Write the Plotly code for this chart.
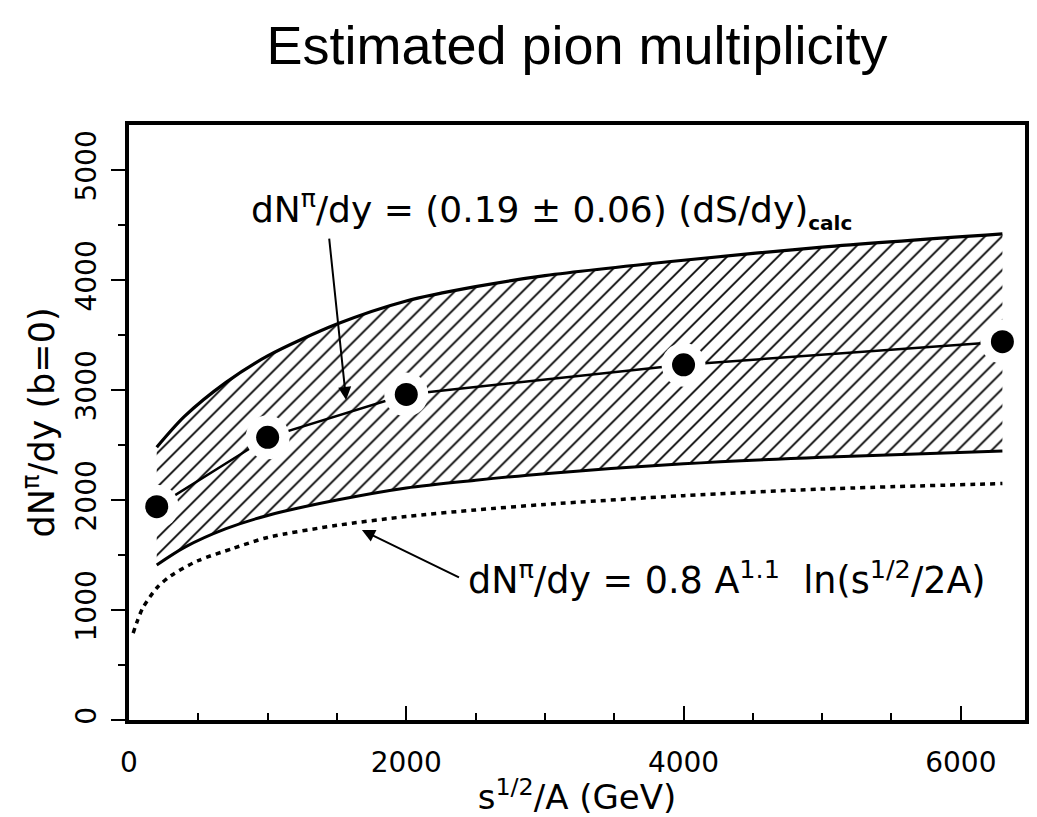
import plotly.graph_objects as go

# Band (dNpi/dy = (0.19 +/- 0.06) (dS/dy)calc)
x_band = [200, 400, 700, 1000, 1500, 2000, 2500, 3000, 4000, 5000, 6300]
upper = [2480, 2760, 3070, 3310, 3600, 3810, 3940, 4040, 4180, 4300, 4420]
lower = [1410, 1570, 1740, 1860, 2000, 2110, 2180, 2240, 2330, 2390, 2445]

# Dotted curve (0.8 A^1.1 ln(s^1/2 / 2A))
x_dotted = [30, 60, 100, 200, 300, 500, 750, 1000, 1500, 2000, 2500, 3000, 4000, 5000, 6300]
y_dotted = [790, 900, 1020, 1200, 1310, 1450, 1560, 1660, 1770, 1850, 1910, 1960, 2040, 2100, 2150]

# Estimated points
x_pts = [200, 1000, 2000, 4000, 6300]
y_pts = [1940, 2570, 2960, 3230, 3440]

x_ticks = [0, 2000, 4000, 6000]
y_ticks = [0, 1000, 2000, 3000, 4000, 5000]

FONT = "DejaVu Sans"

fig = go.Figure()

fig.add_trace(go.Scatter(x=x_band, y=lower, mode="lines",
                         line=dict(color="black", width=3, shape="spline", smoothing=0.8),
                         showlegend=False, hoverinfo="skip"))
fig.add_trace(go.Scatter(x=x_band, y=upper, mode="lines", fill="tonexty",
                         fillcolor="rgba(0,0,0,0)",
                         fillpattern=dict(shape="/", size=12, solidity=0.15,
                                          fgcolor="black", bgcolor="white", fillmode="replace"),
                         line=dict(color="black", width=3.2, shape="spline", smoothing=0.8),
                         showlegend=False, hoverinfo="skip"))
fig.add_trace(go.Scatter(x=x_dotted, y=y_dotted, mode="lines",
                         line=dict(color="black", width=3.5, dash="5px,5px", shape="spline", smoothing=0.8),
                         showlegend=False, hoverinfo="skip"))
fig.add_trace(go.Scatter(x=x_pts, y=y_pts, mode="lines",
                         line=dict(color="black", width=2.5), showlegend=False, hoverinfo="skip"))
fig.add_trace(go.Scatter(x=x_pts, y=y_pts, mode="markers",
                         marker=dict(color="white", size=44, line=dict(width=0)),
                         showlegend=False, hoverinfo="skip"))
fig.add_trace(go.Scatter(x=x_pts, y=y_pts, mode="markers",
                         marker=dict(color="black", size=23, line=dict(width=0)),
                         showlegend=False, hoverinfo="skip"))

annotations = [
    dict(x=869, y=4640, xref="x", yref="y", xanchor="left", yanchor="middle", showarrow=False,
         text="dN<sup>π</sup>/dy = (0.19 ± 0.06) (dS/dy)<sub><b><span style='font-size:20px'>calc</span></b></sub>",
         font=dict(family=FONT, size=36, color="black")),
    dict(x=2434, y=1290, xref="x", yref="y", xanchor="left", yanchor="middle", showarrow=False,
         text="dN<sup>π</sup>/dy = 0.8 A<sup>1.1</sup>  ln(s<sup>1/2</sup>/2A)",
         font=dict(family=FONT, size=36.5, color="black")),
    dict(x=1566, y=2910, ax=1443, ay=4390, xref="x", yref="y", axref="x", ayref="y",
         text="", showarrow=True, arrowhead=2, arrowsize=1.3, arrowwidth=2, arrowcolor="black"),
    dict(x=1680, y=1727, ax=2391, ay=1291, xref="x", yref="y", axref="x", ayref="y",
         text="", showarrow=True, arrowhead=2, arrowsize=1.3, arrowwidth=2, arrowcolor="black"),
]

fig.update_layout(
    width=1037, height=817,
    margin=dict(l=129, r=8, t=125, b=97),
    paper_bgcolor="white", plot_bgcolor="white",
    title=dict(text="Estimated pion multiplicity", x=0.5, xref="paper", y=1 - 45 / 817,
               yanchor="middle", xanchor="center",
               font=dict(family="Liberation Sans", size=54, color="black")),
    annotations=annotations,
    showlegend=False,
)

fig.update_xaxes(range=[0, 6463], showgrid=False, zeroline=False,
                 showline=True, linewidth=4, linecolor="black", mirror=True,
                 tickvals=x_ticks, ticks="inside", ticklen=14, tickwidth=1.5, tickcolor="black",
                 minor=dict(dtick=500, ticks="inside", ticklen=7, tickwidth=1.5, tickcolor="black"),
                 ticklabelstandoff=14,
                 tickfont=dict(family=FONT, size=28, color="black"),
                 title=dict(text="s<sup>1/2</sup>/A (GeV)", standoff=0,
                            font=dict(family=FONT, size=34, color="black")))
fig.update_yaxes(range=[0, 5410], showgrid=False, zeroline=False,
                 showline=True, linewidth=4, linecolor="black", mirror=True,
                 tickvals=y_ticks, ticks="outside", ticklen=14, tickwidth=1.5, tickcolor="black",
                 minor=dict(dtick=500, ticks="outside", ticklen=7, tickwidth=1.5, tickcolor="black"),
                 tickangle=-90, ticklabelstandoff=4,
                 tickfont=dict(family=FONT, size=28, color="black"),
                 title=dict(text="dN<sup>π</sup>/dy (b=0)", standoff=6,
                            font=dict(family=FONT, size=35, color="black")))

fig.write_html("out.html")
